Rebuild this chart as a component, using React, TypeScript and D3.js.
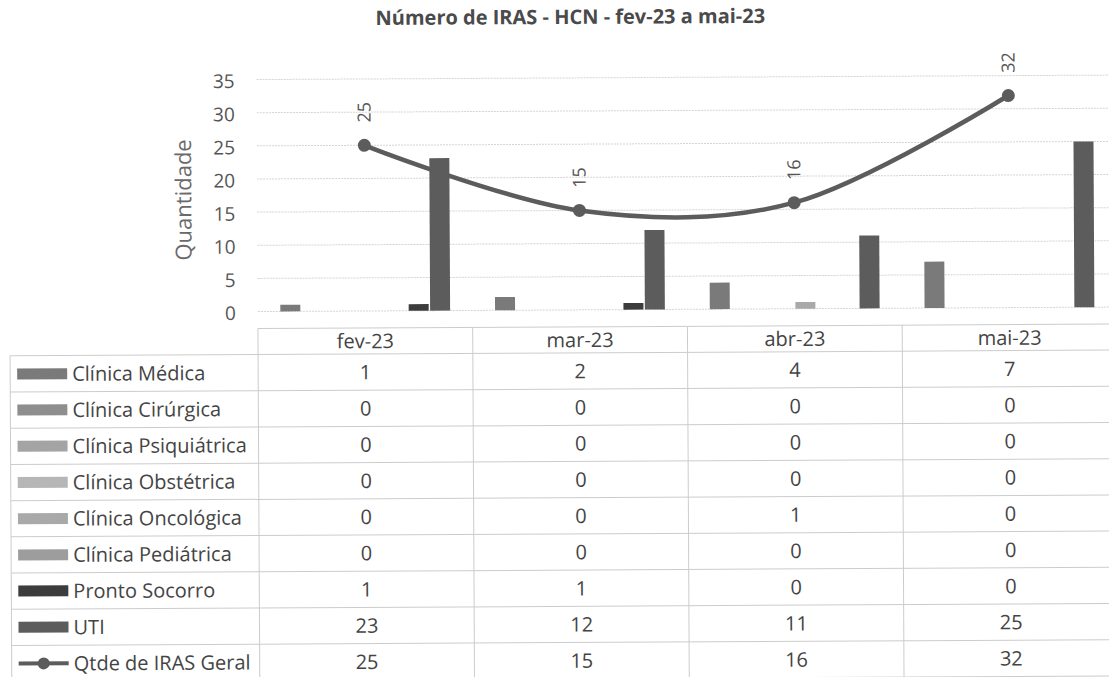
import React from "react";
import * as d3 from "d3";

const months = ["fev-23", "mar-23", "abr-23", "mai-23"];
const seriesNames = [
  "Clínica Médica",
  "Clínica Cirúrgica",
  "Clínica Psiquiátrica",
  "Clínica Obstétrica",
  "Clínica Oncológica",
  "Clínica Pediátrica",
  "Pronto Socorro",
  "UTI",
];
const clinicaMedica = [1, 2, 4, 7];
const clinicaCirurgica = [0, 0, 0, 0];
const clinicaPsiquiatrica = [0, 0, 0, 0];
const clinicaObstetrica = [0, 0, 0, 0];
const clinicaOncologica = [0, 0, 1, 0];
const clinicaPediatrica = [0, 0, 0, 0];
const prontoSocorro = [1, 1, 0, 0];
const uti = [23, 12, 11, 25];
const lineName = "Qtde de IRAS Geral";
const qtdeGeral = [25, 15, 16, 32];
const yTicks = [0, 5, 10, 15, 20, 25, 30, 35];

const seriesValues = [
  clinicaMedica,
  clinicaCirurgica,
  clinicaPsiquiatrica,
  clinicaObstetrica,
  clinicaOncologica,
  clinicaPediatrica,
  prontoSocorro,
  uti,
];
const seriesColors = [
  "#7a7a7a",
  "#8e8e8e",
  "#a4a4a4",
  "#b6b6b6",
  "#a9a9a9",
  "#9d9d9d",
  "#3c3c3c",
  "#5c5c5c",
];

const W = 1109;
const H = 677;
const FONT = "'Open Sans', 'Noto Sans', sans-serif";

export default function App() {
  const x = d3.scaleBand<string>().domain(months).range([258, 1117]).padding(0);
  const x1 = d3
    .scaleBand<string>()
    .domain(seriesNames)
    .range([0, x.bandwidth()])
    .paddingInner(0.065)
    .paddingOuter(1.05);
  const y = d3.scaleLinear().domain([0, 35]).range([310, 78]);

  const cx = (m: string) => (x(m) as number) + x.bandwidth() / 2;
  const linePath = d3
    .line<number>()
    .x((_, i) => cx(months[i]))
    .y((d) => y(d))
    .curve(d3.curveCardinal.tension(0))(qtdeGeral) as string;

  const tableTop = 327;
  const headerBottom = 353;
  const rowH = 36.2;
  const rows = [...seriesNames, lineName];
  const rowVals = [...seriesValues, qtdeGeral];
  const tableBottom = headerBottom + rowH * rows.length;
  const plotLeft = 258;
  const plotRight = 1117;

  return (
    <svg
      width={W}
      height={H}
      style={{ position: "absolute", left: 0, top: 0, background: "#fff" }}
      fontFamily={FONT}
    >
      <rect x={0} y={0} width={W} height={H} fill="#fff" />
      <g transform="rotate(-0.3 555 340)">
        <text
          x={572}
          y={24}
          textAnchor="middle"
          fontSize={20}
          fontWeight="bold"
          fill="#4a4a4a"
        >
          Número de IRAS - HCN - fev-23 a mai-23
        </text>

        {/* gridlines */}
        {yTicks.map((t) => (
          <line
            key={"g" + t}
            x1={plotLeft}
            x2={plotRight}
            y1={y(t)}
            y2={y(t)}
            stroke="#d4d4d4"
            strokeWidth={1}
            strokeDasharray="2,1"
          />
        ))}
        {yTicks.map((t) => (
          <text
            key={"t" + t}
            x={236}
            y={y(t) + 1.5}
            dy="0.36em"
            textAnchor="end"
            fontSize={19}
            fill="#555"
          >
            {t}
          </text>
        ))}
        <text
          transform={`translate(192,198) rotate(-90)`}
          textAnchor="middle"
          fontSize={22}
          fill="#6a6a6a"
        >
          Quantidade
        </text>

        {/* bars */}
        {months.map((m, mi) =>
          seriesNames.map((s, si) => {
            const v = seriesValues[si][mi];
            if (!v) return null;
            return (
              <rect
                key={m + s}
                x={(x(m) as number) + (x1(s) as number)}
                y={y(v)}
                width={x1.bandwidth()}
                height={y(0) - y(v)}
                fill={seriesColors[si]}
              />
            );
          })
        )}

        {/* line */}
        <path d={linePath} fill="none" stroke="#5c5c5c" strokeWidth={4.5} />
        {qtdeGeral.map((v, i) => (
          <g key={"p" + i}>
            <circle cx={cx(months[i])} cy={y(v)} r={6.5} fill="#5c5c5c" />
            <text
              transform={`translate(${cx(months[i])},${y(v) - 33}) rotate(-90)`}
              textAnchor="middle"
              dy="0.35em"
              fontSize={18}
              fill="#555"
            >
              {v}
            </text>
          </g>
        ))}

        {/* data table */}
        <g stroke="#cccccc" strokeWidth={1}>
          <line x1={plotLeft} x2={plotRight} y1={tableTop} y2={tableTop} />
          {rows.map((_, i) => (
            <line
              key={"h" + i}
              x1={10}
              x2={plotRight}
              y1={headerBottom + rowH * i}
              y2={headerBottom + rowH * i}
            />
          ))}
          <line x1={10} x2={plotRight} y1={tableBottom} y2={tableBottom} />
          <line x1={10} x2={10} y1={headerBottom} y2={tableBottom} />
          {months.map((m) => (
            <line
              key={"v" + m}
              x1={x(m) as number}
              x2={x(m) as number}
              y1={tableTop}
              y2={tableBottom}
            />
          ))}
        </g>
        {months.map((m) => (
          <text
            key={"hd" + m}
            x={cx(m)}
            y={(tableTop + headerBottom) / 2}
            dy="0.36em"
            textAnchor="middle"
            fontSize={20}
            fill="#444"
          >
            {m}
          </text>
        ))}
        {rows.map((r, ri) => {
          const cy = headerBottom + rowH * (ri + 0.5);
          const isLine = ri === rows.length - 1;
          return (
            <g key={"r" + ri}>
              {isLine ? (
                <g>
                  <line x1={17} x2={67} y1={cy} y2={cy} stroke="#5c5c5c" strokeWidth={4} />
                  <circle cx={42} cy={cy} r={6} fill="#5c5c5c" />
                </g>
              ) : (
                <rect x={17} y={cy - 5.5} width={50} height={11} fill={seriesColors[ri]} />
              )}
              <text x={72} y={cy} dy="0.36em" fontSize={20} fill="#444">
                {r}
              </text>
              {months.map((m, mi) => (
                <text
                  key={"c" + mi}
                  x={cx(m)}
                  y={cy}
                  dy="0.36em"
                  textAnchor="middle"
                  fontSize={20}
                  fill="#444"
                >
                  {rowVals[ri][mi]}
                </text>
              ))}
            </g>
          );
        })}
      </g>
    </svg>
  );
}
